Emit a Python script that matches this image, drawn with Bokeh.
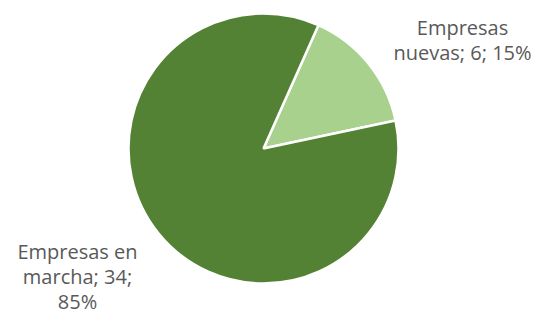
import math
from bokeh.plotting import figure
from bokeh.models import Range1d, ColumnDataSource
from bokeh.core.properties import value
from bokeh.embed import file_html
from bokeh.resources import INLINE

categories = ["Empresas nuevas", "Empresas en marcha"]
counts = [6, 34]
percents = ["15%", "85%"]
colors = ["#A9D18E", "#548235"]

W, H = 541, 314
p = figure(width=W, height=H, output_backend="svg", toolbar_location=None,
           x_range=Range1d(0, W), y_range=Range1d(0, H),
           min_border=0, outline_line_color=None)
p.axis.visible = False
p.grid.visible = False
p.background_fill_color = "white"

cx, cy, r = 263, 314 - 148, 135
first_angle = 24  # degrees clockwise from top
total = sum(counts)
starts, ends = [], []
acc = first_angle
for c in counts:
    a0 = acc
    a1 = acc + 360.0 * c / total
    starts.append(math.radians(90 - a1))
    ends.append(math.radians(90 - a0))
    acc = a1

src = ColumnDataSource(dict(start=starts, end=ends, color=colors))
p.wedge(x=cx, y=cy, radius=r, start_angle="start", end_angle="end",
        direction="anticlock", fill_color="color", line_color="white",
        line_width=2.5, source=src)

labels = [
    (["Empresas", "nuevas; %d; %s" % (counts[0], percents[0])], 462, [27, 52]),
    (["Empresas en", "marcha; %d;" % counts[1], percents[1]], 77, [251, 276, 301]),
]
xs, ys, ts = [], [], []
for lines, x, bys in labels:
    for t, by in zip(lines, bys):
        xs.append(x)
        ys.append(314 - by)
        ts.append(t)
p.text(x=xs, y=ys, text=ts, text_align="center", text_baseline="alphabetic",
       text_font=value("Open Sans"), text_font_size="20px", text_color="#595959")

open("out.html", "w").write(file_html(p, INLINE))
